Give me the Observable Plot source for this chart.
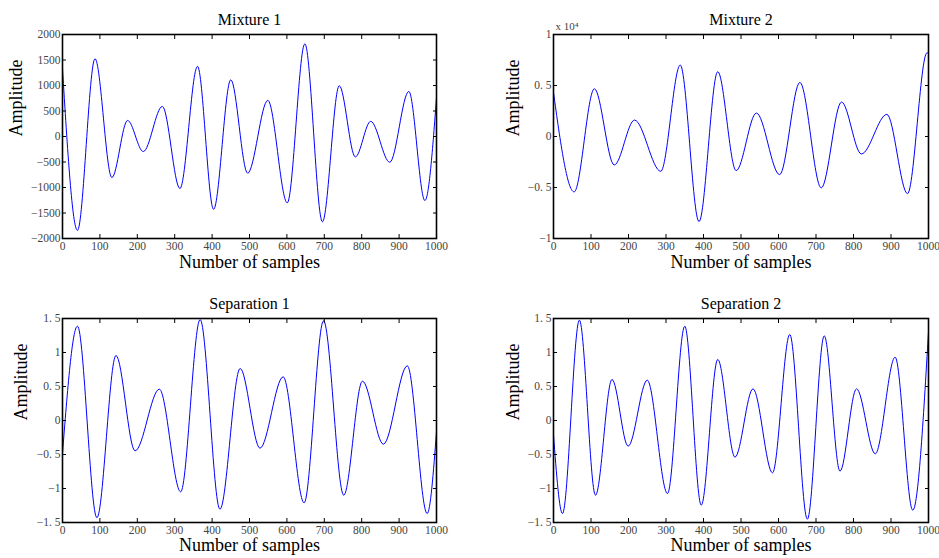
<!DOCTYPE html>
<html>
<head>
<meta charset="utf-8">
<script src="https://cdn.jsdelivr.net/npm/d3@7"></script>
<script src="https://cdn.jsdelivr.net/npm/@observablehq/plot@0.6"></script>
<style>
  html, body { margin: 0; padding: 0; background: #fff; }
  #wrap { position: relative; width: 939px; height: 558px; }
  .panel { position: absolute; }
</style>
</head>
<body>
<div id="wrap"></div>
<script>
// ---- Data (extrema) ----
const titles = ["Mixture 1", "Mixture 2", "Separation 1", "Separation 2"];
const xLabel = "Number of samples";
const yLabel = "Amplitude";
const xTicks = [0, 100, 200, 300, 400, 500, 600, 700, 800, 900, 1000];

const mix1X = [0, 40, 87, 132, 174, 216, 267, 314, 361, 404, 450, 495, 549, 601, 648, 695, 740, 783, 824, 875, 926, 969, 1000];
const mix1Y = [1330, -1840, 1525, -805, 315, -295, 590, -1020, 1375, -1427, 1112, -720, 708, -1300, 1818, -1673, 995, -400, 297, -505, 883, -1255, 760];
const mix1Ticks = [-2000, -1500, -1000, -500, 0, 500, 1000, 1500, 2000];

const mix2X = [0, 55, 109, 162, 216, 286, 338, 388, 438, 487, 541, 603, 657, 714, 768, 821, 889, 944, 996, 1000];
const mix2Y = [0.43, -0.543, 0.468, -0.279, 0.161, -0.341, 0.70, -0.834, 0.635, -0.334, 0.230, -0.374, 0.530, -0.504, 0.338, -0.171, 0.217, -0.56, 0.82, 0.815];
const mix2Ticks = [-1, -0.5, 0, 0.5, 1];
const mix2Exponent = "x 10⁴";

const sep1X = [0, 40, 92, 143, 194, 259, 316, 368, 421, 475, 528, 590, 646, 698, 752, 802, 858, 922, 975, 1000];
const sep1Y = [-0.485, 1.387, -1.43, 0.956, -0.446, 0.461, -1.049, 1.485, -1.304, 0.765, -0.407, 0.642, -1.211, 1.466, -1.098, 0.578, -0.348, 0.804, -1.368, -0.167];

const sep2X = [0, 24, 69, 112, 156, 199, 250, 304, 350, 394, 438, 484, 532, 584, 630, 677, 722, 764, 808, 858, 911, 958, 1000];
const sep2Y = [-0.216, -1.368, 1.475, -1.098, 0.603, -0.377, 0.593, -1.074, 1.387, -1.245, 0.897, -0.539, 0.466, -0.77, 1.265, -1.451, 1.245, -0.745, 0.466, -0.49, 0.931, -1.319, 1.304];
const sepTicks = [-1.5, -1, -0.5, 0, 0.5, 1, 1.5];

// ---- Layout ----
const panels = [
  {title: titles[0], xs: mix1X, ys: mix1Y, ticks: mix1Ticks, domain: [-2000, 2000], big: true,
   left: 0, top: 0, width: 470, height: 280, mL: 62, mR: 34, mT: 34, mB: 42, yDx: -46, tDy: -15, xDy: 24},
  {title: titles[1], xs: mix2X, ys: mix2Y, ticks: mix2Ticks, domain: [-1, 1], exp: mix2Exponent,
   left: 470, top: 0, width: 469, height: 280, mL: 83, mR: 11, mT: 34, mB: 42, yDx: -40, tDy: -15, xDy: 24},
  {title: titles[2], xs: sep1X, ys: sep1Y, ticks: sepTicks, domain: [-1.5, 1.5],
   left: 0, top: 280, width: 470, height: 278, mL: 62, mR: 34, mT: 38, mB: 36, yDx: -41, tDy: -15, xDy: 23},
  {title: titles[3], xs: sep2X, ys: sep2Y, ticks: sepTicks, domain: [-1.5, 1.5],
   left: 470, top: 280, width: 469, height: 278, mL: 83, mR: 11, mT: 38, mB: 36, yDx: -40, tDy: -15, xDy: 23}
];

function fmtNum(d) {
  if (d === 0) return "0";
  let s = String(Math.abs(d)).replace(".", ". ");
  return (d < 0 ? "\u2212" : "") + s;
}
function fmtBig(d) {
  return d < 0 ? "\u2212" + Math.abs(d) : String(d);
}

const wrap = document.getElementById("wrap");
const serif = "'Liberation Serif', 'Times New Roman', serif";
const tickColor = "#444";

for (const p of panels) {
  const data = p.xs.map((x, i) => ({x, y: p.ys[i]}));
  const fmt = p.big ? fmtBig : fmtNum;
  const marks = [
    Plot.line(data, {x: "x", y: "y", stroke: "#0000ff", strokeWidth: 1, curve: "monotone-x", clip: true}),
    Plot.axisX(xTicks, {anchor: "bottom", label: null, tickSize: -4, tickPadding: 7, tickFormat: d => String(d), fontSize: 11.5, fill: tickColor, stroke: "#000", strokeWidth: 1}),
    Plot.axisX(xTicks, {anchor: "top", label: null, tickSize: -4, tickFormat: () => "", stroke: "#000", strokeWidth: 1}),
    Plot.axisY(p.ticks, {anchor: "left", label: null, tickSize: -4, tickPadding: 6, tickFormat: fmt, fontSize: 11.5, fill: tickColor, stroke: "#000", strokeWidth: 1}),
    Plot.axisY(p.ticks, {anchor: "right", label: null, tickSize: -4, tickFormat: () => "", stroke: "#000", strokeWidth: 1}),
    Plot.frame({stroke: "#000", strokeWidth: 1.6}),
    Plot.text([p.title], {frameAnchor: "top", dy: p.tDy, fontSize: 16, fill: "#000", lineAnchor: "middle"}),
    Plot.text([xLabel], {frameAnchor: "bottom", dy: p.xDy, fontSize: 18, fill: "#000", lineAnchor: "middle"}),
    Plot.text([yLabel], {frameAnchor: "left", dx: p.yDx, rotate: -90, fontSize: 18, fill: "#000", lineAnchor: "middle"})
  ];
  if (p.exp) {
    marks.push(Plot.text([p.exp], {frameAnchor: "top-left", dx: 2, dy: -8, textAnchor: "start", lineAnchor: "middle", fontSize: 11, fill: tickColor}));
  }
  const chart = Plot.plot({
    width: p.width,
    height: p.height,
    marginLeft: p.mL, marginRight: p.mR, marginTop: p.mT, marginBottom: p.mB,
    style: {fontFamily: serif, background: "transparent", overflow: "visible"},
    x: {domain: [0, 1000]},
    y: {domain: p.domain},
    marks
  });
  const div = document.createElement("div");
  div.className = "panel";
  div.style.left = p.left + "px";
  div.style.top = p.top + "px";
  div.appendChild(chart);
  wrap.appendChild(div);
}
</script>
</body>
</html>
